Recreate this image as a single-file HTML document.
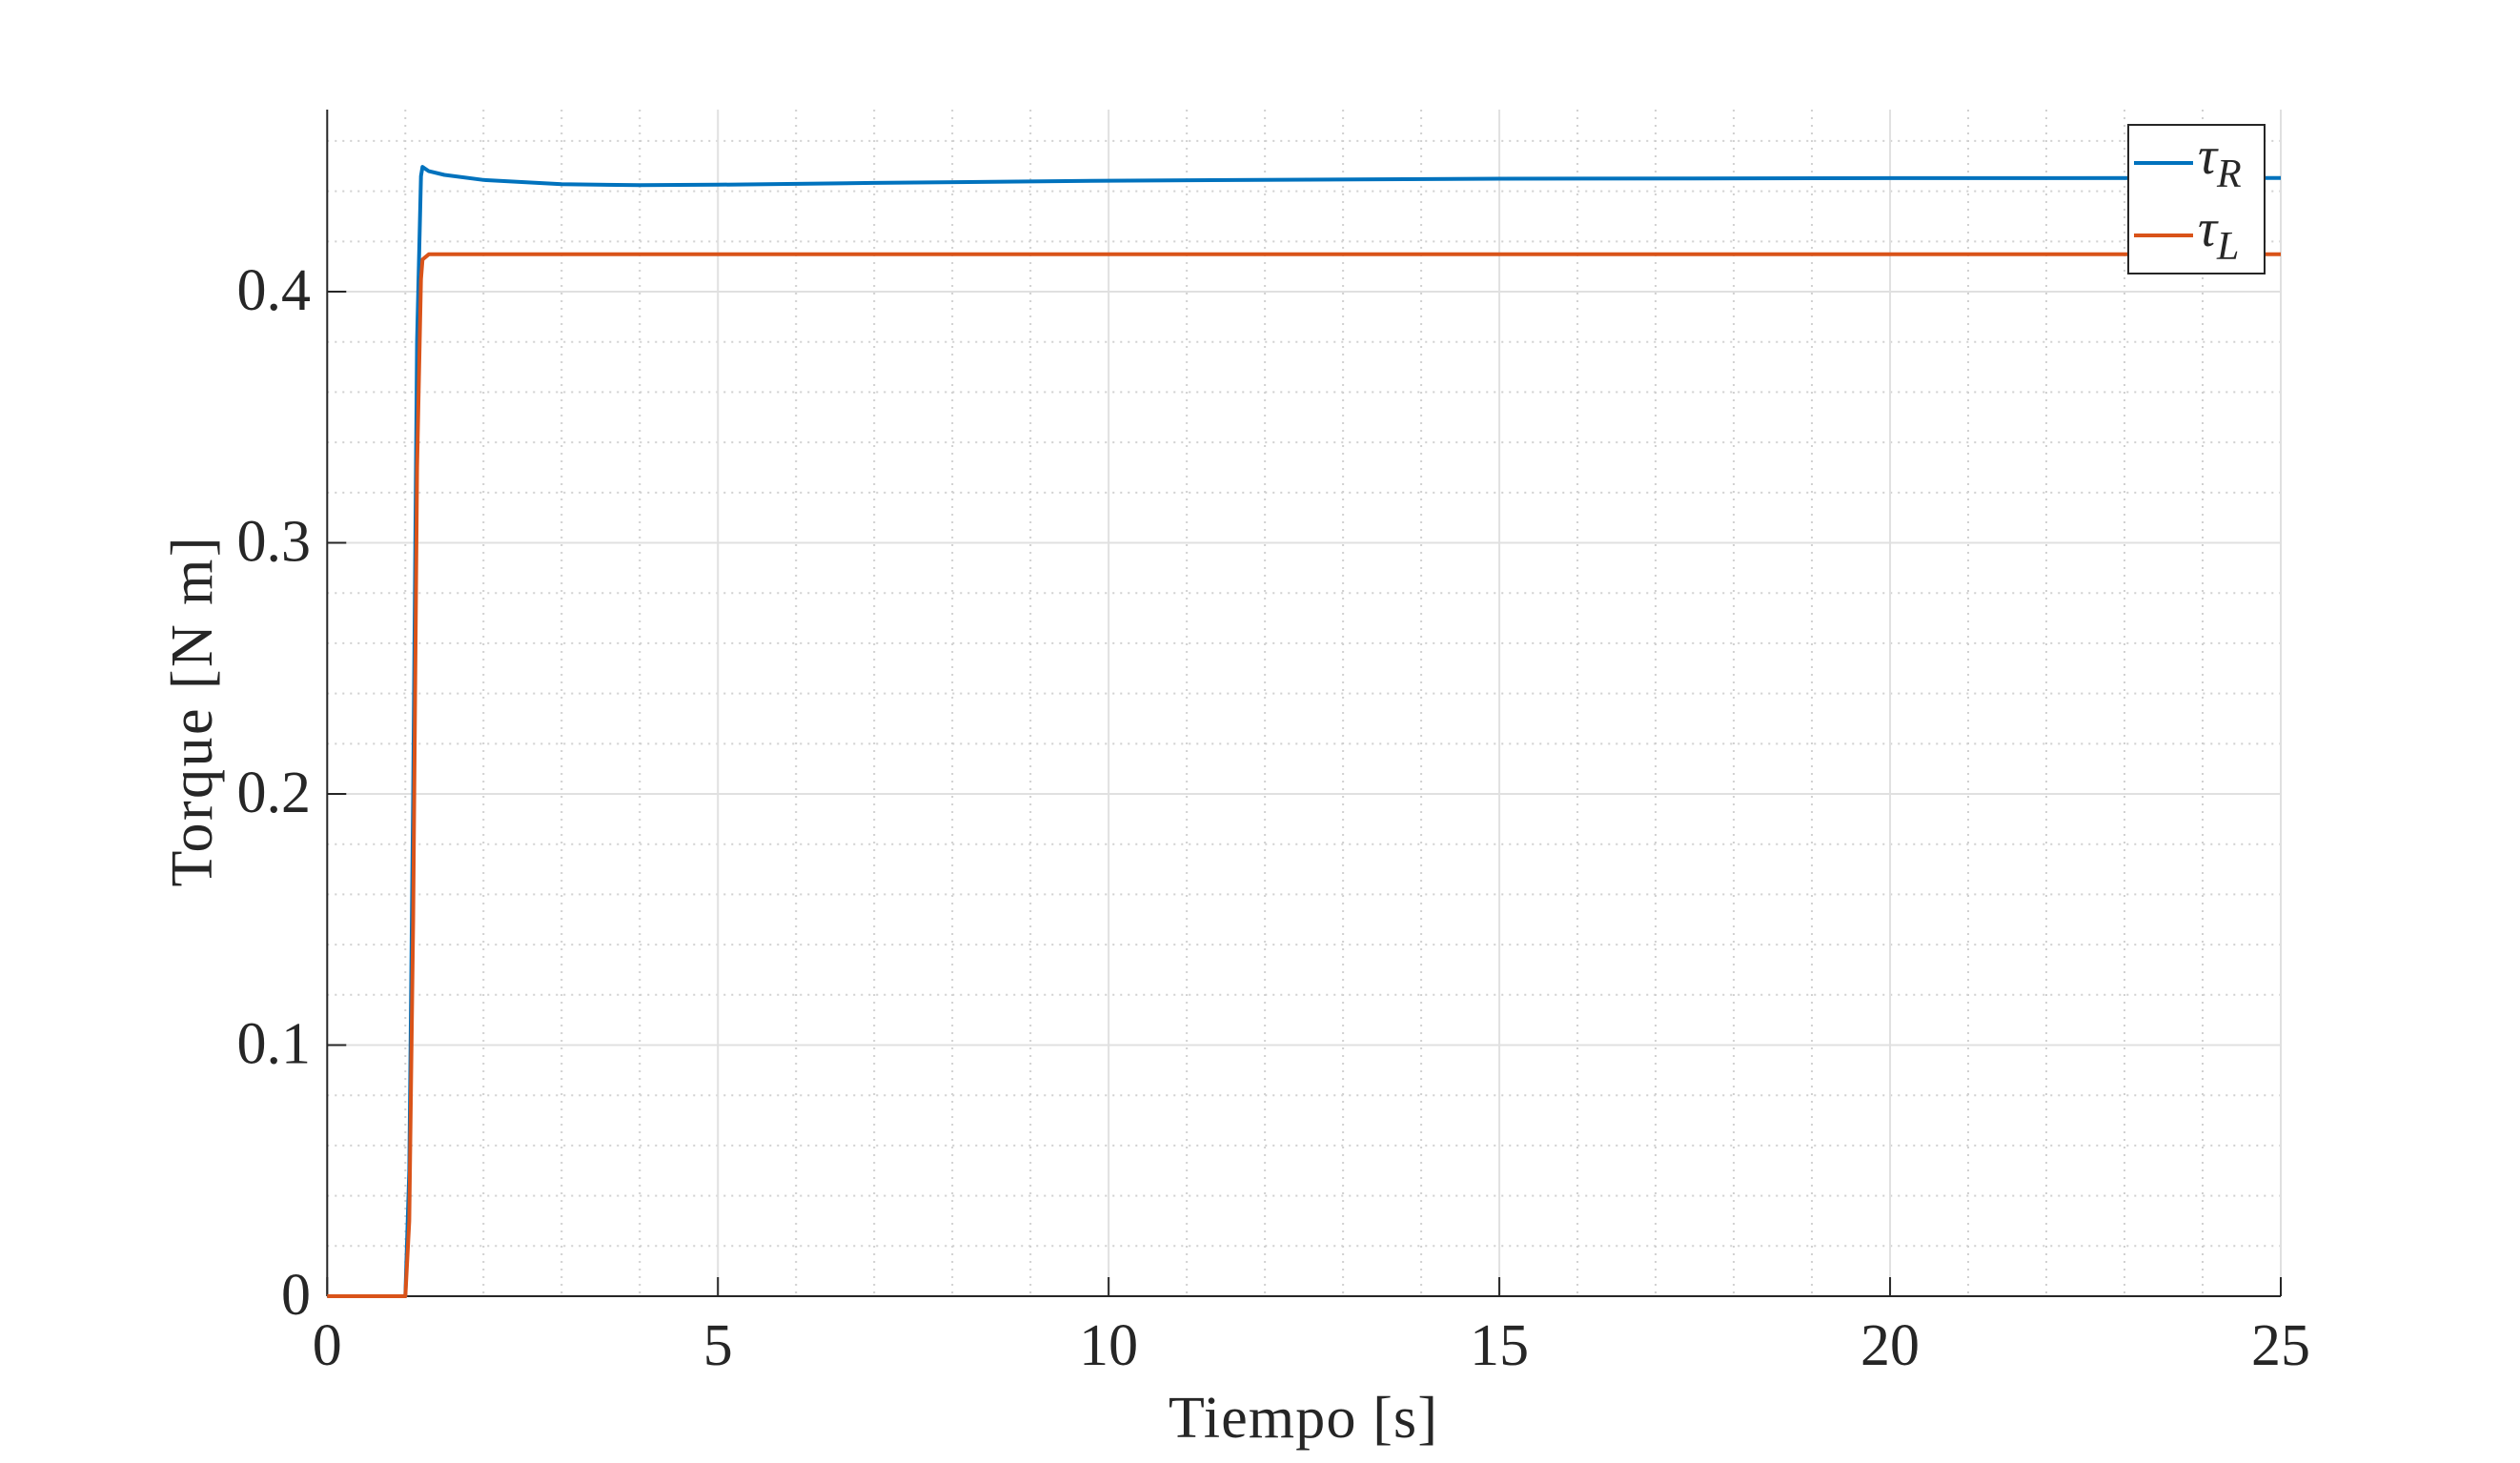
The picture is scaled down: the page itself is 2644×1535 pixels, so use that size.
<!DOCTYPE html>
<html><head><meta charset="utf-8"><style>
body{margin:0;background:#fff}
svg text{font-family:"Liberation Serif",serif;fill:#262626}
</style></head><body>
<svg id="chart" width="2644" height="1530" viewBox="0 0 2644 1530" xmlns="http://www.w3.org/2000/svg">
<rect width="2644" height="1530" fill="#fff"/>
<g id="grid"></g>
<g id="axes"></g>
<g id="series"></g>
<text x="1367" y="1508" font-size="62" text-anchor="middle" textLength="282" lengthAdjust="spacing">Tiempo [s]</text>
<text transform="translate(222,747) rotate(-90)" font-size="62" text-anchor="middle" textLength="367" lengthAdjust="spacing">Torque [N m]</text>
<g>
<rect x="2233" y="131" width="143" height="156" fill="#fff" stroke="#262626" stroke-width="2"/>
<line x1="2239" y1="171" x2="2301" y2="171" stroke="#0072BD" stroke-width="4"/>
<text x="2306" y="182" font-size="56" font-style="italic">τ<tspan font-size="42" dy="14">R</tspan></text>
<line x1="2239" y1="247" x2="2301" y2="247" stroke="#D95319" stroke-width="4"/>
<text x="2306" y="258" font-size="56" font-style="italic">τ<tspan font-size="42" dy="14">L</tspan></text>
</g>
</svg>
<script>
const xTicks=[0,5,10,15,20,25];
const yTicks=[0,0.1,0.2,0.3,0.4];
const yTickLabels=["0","0.1","0.2","0.3","0.4"];
const time=[0,1.0,1.05,1.1,1.15,1.2,1.22,1.3,1.5,2,3,4,5,7,10,15,20,25];
const tauR=[0,0,0.05,0.2,0.38,0.446,0.4497,0.448,0.4465,0.4445,0.4428,0.4424,0.4426,0.4433,0.4442,0.4450,0.4452,0.4453];
const tauL=[0,0,0.03,0.15,0.33,0.405,0.4128,0.4149,0.4149,0.4149,0.4149,0.4149,0.4149,0.4149,0.4149,0.4149,0.4149,0.4149];
const X0=343.3,X1=2393,Y0=1360,YT=115,XMAX=25,YMAX=0.4725;
const sx=v=>X0+(v/XMAX)*(X1-X0);
const sy=v=>Y0-(v/YMAX)*(Y0-YT);
const NS="http://www.w3.org/2000/svg";
function mk(tag,attrs,parent){const e=document.createElementNS(NS,tag);for(const k in attrs)e.setAttribute(k,attrs[k]);parent.appendChild(e);return e;}
const grid=document.getElementById('grid'),axes=document.getElementById('axes'),series=document.getElementById('series');
for(let i=1;i<XMAX;i++){if(i%5===0)continue;const l=mk('line',{x1:sx(i),x2:sx(i),y1:YT,y2:Y0,stroke:'#d0d0d0','stroke-width':2,'stroke-dasharray':'2 6'},grid);

}
for(let k=1;k*0.02<YMAX;k++){if(k%5===0)continue;const v=k*0.02;const l=mk('line',{x1:X0,x2:X1,y1:sy(v),y2:sy(v),stroke:'#d0d0d0','stroke-width':2,'stroke-dasharray':'2 6'},grid);

}
xTicks.forEach(t=>{if(t===0)return;const l=mk('line',{x1:sx(t),x2:sx(t),y1:YT,y2:Y0,stroke:'#e0e0e0','stroke-width':2},grid);

});
yTicks.forEach(t=>{if(t===0)return;const l=mk('line',{x1:X0,x2:X1,y1:sy(t),y2:sy(t),stroke:'#e0e0e0','stroke-width':2},grid);

});
const ya=mk('line',{x1:X0,x2:X0,y1:YT,y2:Y0,stroke:'#262626','stroke-width':2},axes);


const xa=mk('line',{x1:X0,x2:X1,y1:Y0,y2:Y0,stroke:'#262626','stroke-width':2},axes);


xTicks.forEach(t=>{const tk=mk('line',{x1:sx(t),x2:sx(t),y1:Y0,y2:Y0-20,stroke:'#262626','stroke-width':2},axes);


const tx=mk('text',{x:sx(t),y:1432,'font-size':62,'text-anchor':'middle'},axes);tx.textContent=String(t);

});
yTicks.forEach((t,i)=>{const tk=mk('line',{x1:X0,x2:X0+20,y1:sy(t),y2:sy(t),stroke:'#262626','stroke-width':2},axes);


const tx=mk('text',{x:326,y:sy(t)+19,'font-size':62,'text-anchor':'end'},axes);tx.textContent=yTickLabels[i];

});
function path(vals,color,name){const d=time.map((t,i)=>(i?'L':'M')+sx(t).toFixed(1)+' '+sy(vals[i]).toFixed(1)).join(' ');
const p=mk('path',{d:d,fill:'none',stroke:color,'stroke-width':4,'stroke-linejoin':'round'},series);

}
path(tauR,'#0072BD','series-tau-r');
path(tauL,'#D95319','series-tau-l');
</script>
</body></html>
